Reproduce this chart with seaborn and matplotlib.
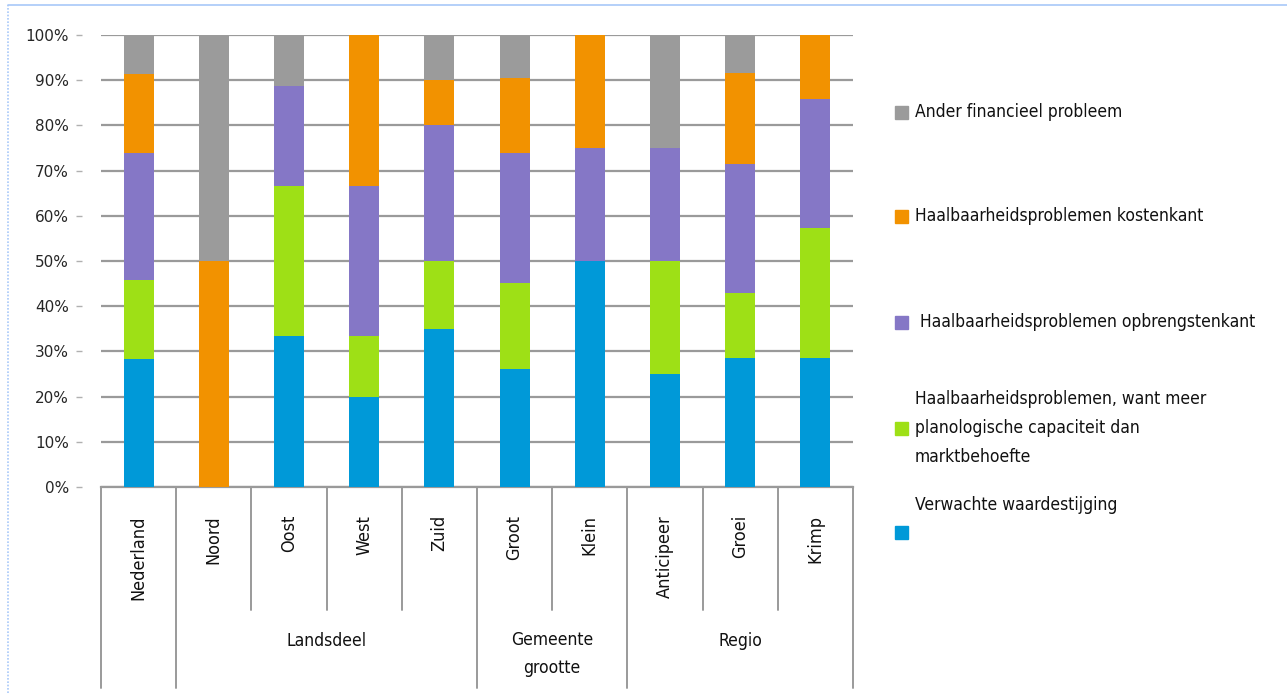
import numpy as np
import pandas as pd
import matplotlib
matplotlib.use("Agg")
import matplotlib.pyplot as plt
import seaborn as sns
from matplotlib.patches import Rectangle
from matplotlib.lines import Line2D
import matplotlib.transforms as mtrans

# ---------------- data ----------------
categories = ["Nederland", "Noord", "Oost", "West", "Zuid",
              "Groot", "Klein", "Anticipeer", "Groei", "Krimp"]
groups = ["", "Landsdeel", "Gemeente\ngrootte", "Regio"]
group_sizes = [1, 4, 2, 3]

series_names = ["Verwachte waardestijging",
                "Haalbaarheidsproblemen, want meer\nplanologische capaciteit dan\nmarktbehoefte",
                "Haalbaarheidsproblemen opbrengstenkant",
                "Haalbaarheidsproblemen kostenkant",
                "Ander financieel probleem"]
verwachte = [28.3, 0, 33.3, 20.0, 35, 26.2, 50, 25, 28.6, 28.6]
planologisch = [17.4, 0, 33.3, 13.3, 15, 19.0, 0, 25, 14.3, 28.6]
opbrengst = [28.3, 0, 22.2, 33.3, 30, 28.6, 25, 25, 28.6, 28.6]
kosten = [17.4, 50, 0, 33.4, 10, 16.7, 25, 0, 20.0, 14.2]
ander = [8.6, 50, 11.2, 0, 10, 9.5, 0, 25, 8.5, 0]
colors = ["#0099D8", "#9EE016", "#8577C6", "#F29200", "#9B9B9B"]
yticks = [0, 10, 20, 30, 40, 50, 60, 70, 80, 90, 100]

series = [verwachte, planologisch, opbrengst, kosten, ander]

# ---------------- figure ----------------
sns.set_theme(style="white")
narrow = ["DejaVu Sans"]
plt.rcParams["font.family"] = narrow
COND = "condensed"

W, H = 1287, 693
fig = plt.figure(figsize=(W / 100, H / 100), dpi=100)
ax = fig.add_axes([101 / W, 1 - 487 / H, (853 - 101) / W, (487 - 35) / H])

cum = np.cumsum(np.array(series), axis=0)
df = pd.DataFrame({"cat": categories})
for i in range(len(series) - 1, -1, -1):
    df["v"] = cum[i]
    sns.barplot(data=df, x="cat", y="v", color=colors[i], width=0.4,
                saturation=1, ax=ax, order=categories, zorder=3,
                linewidth=0, errorbar=None)

ax.set_xlim(-0.5, len(categories) - 0.5)
ax.set_ylim(0, 100)
ax.set_yticks(yticks)
ax.set_yticklabels([f"{t}%" for t in yticks], fontsize=12, family=narrow,
                   fontstretch=COND, color="#111111")
ax.yaxis.grid(True, color="#9a9a9a", linewidth=1.6, zorder=0)
ax.set_axisbelow(True)
ax.set_xlabel("")
ax.set_ylabel("")
ax.set_xticks([])
for s in ["top", "right"]:
    ax.spines[s].set_visible(False)
ax.spines["left"].set_position(("outward", 13.7))
ax.spines["left"].set_color("none")
ax.spines["bottom"].set_color("#9a9a9a")
ax.spines["bottom"].set_linewidth(1.6)
ax.tick_params(axis="y", left=True, length=4.5, width=1.0, color="#b0b0b0",
               pad=5)

# hierarchical category axis
trans = mtrans.blended_transform_factory(ax.transData, ax.transAxes)
lvl1 = -(610 - 487) / 452
lvl2 = -(688 - 487) / 452
bounds = np.cumsum([0] + group_sizes) - 0.5
for b in range(len(categories) + 1):
    xb = b - 0.5
    y_end = lvl2 if xb in bounds else lvl1
    ax.add_line(Line2D([xb, xb], [0, y_end], transform=trans, color="#9a9a9a",
                       linewidth=1.4, clip_on=False))
for i, c in enumerate(categories):
    ax.text(i, -(515 - 487) / 452, c, transform=trans, rotation=90,
            ha="center", va="top", fontsize=13, family=narrow,
            fontstretch=COND, color="#111111")
for g, lo, hi in zip(groups, bounds[:-1], bounds[1:]):
    if g:
        yc = 654 if "\n" in g else 641
        ax.text((lo + hi) / 2, -(yc - 487) / 452, g, transform=trans,
                ha="center", va="center", fontsize=12.5, family=narrow,
                fontstretch=COND, color="#111111", linespacing=1.75)

# legend (manual, to mimic original layout)
leg_items = [
    ("Ander financieel probleem", colors[4], 112, 112, 915),
    ("Haalbaarheidsproblemen kostenkant", colors[3], 216, 216, 915),
    ("Haalbaarheidsproblemen opbrengstenkant", colors[2], 322, 322, 920),
    (series_names[1], colors[1], 428, 428, 915),
    (series_names[0], colors[0], 532, 505, 915),
]
for label, col, ym, yt, xt in leg_items:
    fig.patches.append(Rectangle((895 / W, 1 - (ym + 6.5) / H), 13 / W, 13 / H,
                                 transform=fig.transFigure, color=col))
    fig.text(xt / W, 1 - yt / H, label, ha="left", va="center", fontsize=12.5,
             family=narrow, fontstretch=COND, color="#111111", linespacing=1.75)

# light blue frame (screenshot border)
fig.add_artist(Line2D([8 / W, 1], [1 - 5 / H, 1 - 5 / H], transform=fig.transFigure,
                      color="#a8c8f8", linewidth=1.2))
fig.add_artist(Line2D([8 / W, 8 / W], [0, 1 - 5 / H], transform=fig.transFigure,
                      color="#a8c8f8", linewidth=1.2, linestyle=(0, (1, 1))))

fig.savefig("out.png", dpi=100, facecolor="white")
